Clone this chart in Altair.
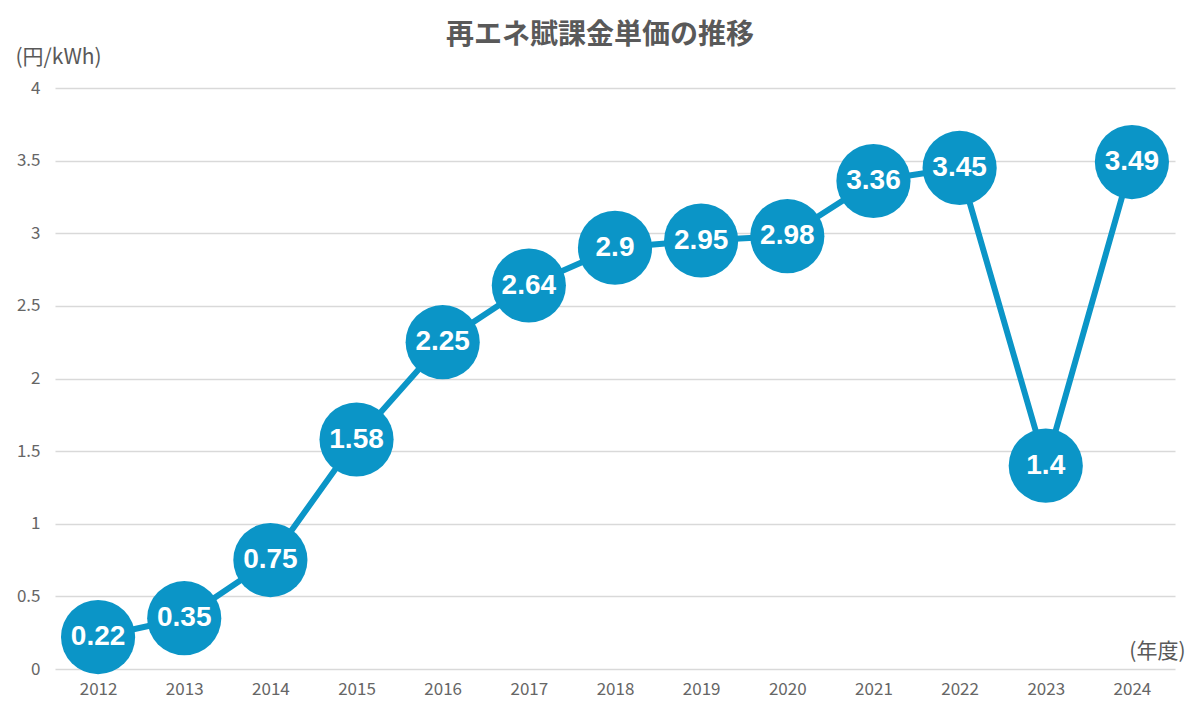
import altair as alt
import pandas as pd

years = ["2012", "2013", "2014", "2015", "2016", "2017", "2018", "2019", "2020", "2021", "2022", "2023", "2024"]
values = [0.22, 0.35, 0.75, 1.58, 2.25, 2.64, 2.90, 2.95, 2.98, 3.36, 3.45, 1.40, 3.49]
labels = ["0.22", "0.35", "0.75", "1.58", "2.25", "2.64", "2.9", "2.95", "2.98", "3.36", "3.45", "1.4", "3.49"]
y_ticks = [0, 0.5, 1, 1.5, 2, 2.5, 3, 3.5, 4]

df = pd.DataFrame({"year": years, "value": values, "label": labels})

BLUE = "#0B95C7"
GRAY = "#595959"
FONT = "Noto Sans CJK JP"

x = alt.X("year:N", sort=years,
          scale=alt.Scale(paddingInner=0, paddingOuter=0.5),
          axis=alt.Axis(title="(年度)", titleAngle=0, titleAlign="right", titleBaseline="middle",
                        titleX=1130, titleY=-18, titleFontSize=21, titleFontWeight="normal",
                        titleColor=GRAY, titleFont=FONT,
                        labelAngle=0, labelFontSize=17, labelColor="#666666", labelFont=FONT,
                        labelPadding=12, domain=False, ticks=False, grid=False))
y = alt.Y("value:Q",
          scale=alt.Scale(domain=[0, 4], nice=False, zero=True),
          axis=alt.Axis(title="(円/kWh)", titleAngle=0, titleAlign="left", titleBaseline="middle",
                        titleX=-40, titleY=-31, titleFontSize=21, titleFontWeight="normal",
                        titleColor=GRAY, titleFont=FONT,
                        values=y_ticks, format="~g", labelFontSize=17, labelColor="#666666", labelFont=FONT,
                        labelPadding=15, domain=False, ticks=False,
                        grid=True, gridColor="#D9D9D9", gridWidth=1.5))

base = alt.Chart(df).encode(x=x, y=y)

line = base.mark_line(color=BLUE, strokeWidth=6)
points = base.mark_circle(color=BLUE, size=5500, opacity=1)
text = base.mark_text(color="white", fontSize=28, fontWeight="bold", font="Liberation Sans",
                      baseline="middle", align="center").encode(text="label:N")

chart = (line + points + text).properties(
    width=1120, height=581,
    autosize=alt.AutoSizeParams(type="none"),
    padding={"left": 47, "top": 80, "right": 17, "bottom": 50},
    title=alt.TitleParams("再エネ賦課金単価の推移", anchor="middle", frame="group", dx=-15,
                          offset=0, dy=4, fontSize=28, fontWeight="bold", color=GRAY, font=FONT),
).configure_view(stroke=None)

chart.save("out.html", embed_options={"renderer": "svg", "actions": False})
